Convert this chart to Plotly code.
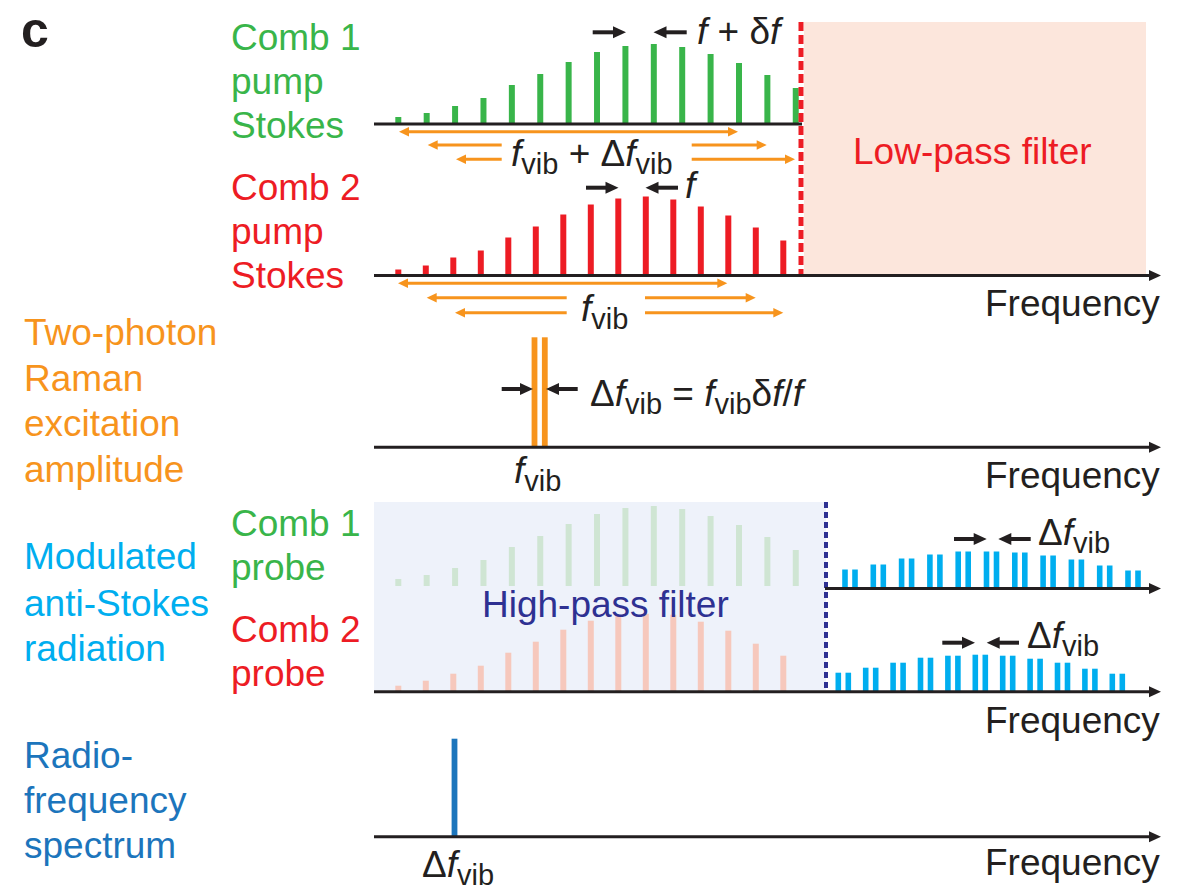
import plotly.graph_objects as go

# ---------------- data ----------------
comb_lines = list(range(15))          # comb-line index (schematic)
comb1_pump_stokes = [7, 11, 18, 26, 39, 50, 62, 72, 78, 80, 77, 70, 61, 49, 36]
comb2_pump_stokes = [6, 10, 18, 25, 38, 49, 61, 71, 77, 79, 76, 69, 60, 48, 35]
comb1_probe = [7, 11, 18, 26, 39, 50, 62, 72, 78, 80, 77, 70, 61, 49, 36]
comb2_probe = [6, 11, 18, 26, 39, 50, 62, 71, 76, 78, 77, 70, 61, 48, 36]
anti_lines = list(range(11))
anti_stokes_comb1 = [19, 24, 30, 34, 37, 37, 36, 33, 29, 23, 18]
anti_stokes_comb2 = [19, 24, 29, 34, 36, 37, 36, 33, 29, 23, 18]
raman_amplitude = [110, 110]
rf_amplitude = [98]

label_pump1 = ["Comb 1", "pump", "Stokes"]
label_pump2 = ["Comb 2", "pump", "Stokes"]
label_raman = ["Two-photon", "Raman", "excitation", "amplitude"]
label_anti = ["Modulated", "anti-Stokes", "radiation"]
label_probe1 = ["Comb 1", "probe"]
label_probe2 = ["Comb 2", "probe"]
label_rf = ["Radio-", "frequency", "spectrum"]
axis_title = "Frequency"

# ---------------- layout constants (pixel-like canvas) ----------------
W, H = 1190, 892


def Y(v):
    return H - v


FONT = "Liberation Sans, Arial, sans-serif"
FS = 37
BLACK = "#231f20"
GREEN = "#39b54a"
RED = "#ed1c24"
ORANGE = "#f7941d"
CYAN = "#00aeef"
RFBLUE = "#1c75bc"
NAVY = "#2e3192"
PINK = "#fce6dc"
LIGHTBLUE = "#eef2fa"
FADEGREEN = "#cfe5d3"
FADERED = "#f6c8bc"

AX0, AXEND = 374, 1161
B_PUMP1, B_PUMP2, B_RAMAN = 124, 275.5, 447.3
B_PROBE1_FADE, B_PROBE1, B_PROBE2, B_RF = 586, 588.5, 691.7, 836.7

C1_X0, C1_DX = 398.3, 28.39
C2_X0, C2_DX = 398.3, 27.5
A1_X0, A1_DX = 850.0, 28.3
A2_X0, A2_DX = 843.3, 27.4
PAIR_OFF = 5.0
RAMAN_X = [534.5, 544.8]
RF_X = [454.5]

SUB = '<sub><span style="font-size:29px">vib</span></sub>'

fig = go.Figure()


def add_bars(xs, hs, base_img, color, width=6.0):
    fig.add_trace(go.Bar(
        x=xs, y=hs, base=[Y(base_img)] * len(hs), width=width,
        marker=dict(color=color, line=dict(width=0)),
        hoverinfo="skip", showlegend=False))


c1x = [C1_X0 + i * C1_DX for i in comb_lines]
c2x = [C2_X0 + i * C2_DX for i in comb_lines]
add_bars(c1x, comb1_pump_stokes, B_PUMP1, GREEN)
add_bars(c2x, comb2_pump_stokes, B_PUMP2, RED)
add_bars(c1x, comb1_probe, B_PROBE1_FADE, FADEGREEN)
add_bars(c2x, comb2_probe, B_PROBE2, FADERED)
add_bars(RAMAN_X, raman_amplitude, B_RAMAN, ORANGE, 5.8)
add_bars(RF_X, rf_amplitude, B_RF, RFBLUE, 5.8)

for x0, dx, amps, base in [(A1_X0, A1_DX, anti_stokes_comb1, B_PROBE1),
                           (A2_X0, A2_DX, anti_stokes_comb2, B_PROBE2)]:
    xs, hs = [], []
    for i in anti_lines:
        c = x0 + i * dx
        xs += [c - PAIR_OFF, c + PAIR_OFF]
        hs += [amps[i], amps[i]]
    add_bars(xs, hs, base, CYAN, 5.6)

shapes = [
    dict(type="rect", x0=804, x1=1146, y0=Y(22), y1=Y(275), fillcolor=PINK,
         line=dict(width=0), layer="below"),
    dict(type="rect", x0=374, x1=826, y0=Y(502), y1=Y(690), fillcolor=LIGHTBLUE,
         line=dict(width=0), layer="below"),
    dict(type="line", x0=AX0, x1=802, y0=Y(B_PUMP1), y1=Y(B_PUMP1),
         line=dict(color=BLACK, width=3)),
    dict(type="line", x0=801, x1=801, y0=Y(22), y1=Y(275),
         line=dict(color=RED, width=5, dash="9px,4px")),
    dict(type="line", x0=826, x1=826, y0=Y(502), y1=Y(690),
         line=dict(color=NAVY, width=4, dash="6px,4px")),
]


def head(tip, y_img, d, color, L, hh):
    yc = Y(y_img)
    b = tip - d * L
    shapes.append(dict(
        type="path", path=f"M {tip},{yc} L {b},{yc + hh} L {b},{yc - hh} Z",
        fillcolor=color, line=dict(width=0), layer="above"))


def arrow(tail, tip, y_img, color, width, L, hh, both=False):
    d = 1 if tip > tail else -1
    x_start = tail + d * (L - 1) if both else tail
    shapes.append(dict(type="line", x0=x_start, x1=tip - d * (L - 1),
                       y0=Y(y_img), y1=Y(y_img),
                       line=dict(color=color, width=width), layer="above"))
    head(tip, y_img, d, color, L, hh)
    if both:
        head(tail, y_img, -d, color, L, hh)


# frequency axes
for y0, x0 in [(B_PUMP2, AX0), (B_RAMAN, AX0), (B_PROBE1, 825),
               (B_PROBE2, AX0), (B_RF, AX0)]:
    arrow(x0, AXEND, y0, BLACK, 3, 12, 5.5)

# black spacing arrows
for tail, tip, yy in [(592.7, 626, 32.3), (686.7, 653.5, 32.3),
                      (586, 618.5, 187.7), (678, 645.5, 187.7),
                      (501.7, 533, 389), (577.7, 546, 389),
                      (954, 986.7, 539), (1030.7, 998.3, 539),
                      (942.3, 975, 642.7), (1019, 986.7, 642.7)]:
    arrow(tail, tip, yy, BLACK, 4, 13, 6)

# orange f_vib arrows
OL, OH = 10, 4.8
arrow(399, 738, 131.7, ORANGE, 3, OL, OH, both=True)
arrow(501.7, 427.7, 145, ORANGE, 3, OL, OH)
arrow(691.7, 766.7, 145, ORANGE, 3, OL, OH)
arrow(501.7, 456, 159.3, ORANGE, 3, OL, OH)
arrow(691.7, 795, 159.3, ORANGE, 3, OL, OH)
arrow(398, 727.3, 283.3, ORANGE, 3, OL, OH, both=True)
arrow(566.7, 426.7, 297.7, ORANGE, 3, OL, OH)
arrow(645, 755.7, 297.7, ORANGE, 3, OL, OH)
arrow(566.7, 455, 312.7, ORANGE, 3, OL, OH)
arrow(645, 783.3, 312.7, ORANGE, 3, OL, OH)

ann = []


def text(x, y_img, s, color=BLACK, anchor="left", size=FS, bold=False):
    ann.append(dict(
        x=x, y=Y(y_img), xref="x", yref="y", text=("<b>%s</b>" % s) if bold else s,
        showarrow=False, xanchor=anchor, yanchor="middle",
        font=dict(family=FONT, size=size, color=color)))


def stack(x, ys, lines, color):
    for yy, s in zip(ys, lines):
        text(x, yy, s, color)


text(35, 30, "c", BLACK, "center", 50, bold=True)
stack(229, [37, 81, 125.5], label_pump1, GREEN)
stack(229, [187, 231, 275], label_pump2, RED)
stack(22, [332.5, 378, 423, 469], label_raman, ORANGE)
stack(22, [556.7, 603, 648.7], label_anti, CYAN)
stack(229, [523.7, 567], label_probe1, GREEN)
stack(229, [629.8, 673], label_probe2, RED)
stack(22, [755, 800, 845], label_rf, RFBLUE)

for yy in [303, 475, 720, 862]:
    text(1162, yy, axis_title, BLACK, "right")

text(972.5, 151, "Low-pass filter", RED, "center")
text(605.5, 604, "High-pass filter", NAVY, "center")

text(695, 31, "<i>f</i> + δ<i>f</i>")
text(683, 185, "<i>f</i>")
text(592, 156, "<i>f</i>" + SUB + " + Δ<i>f</i>" + SUB, BLACK, "center")
text(604, 311, "<i>f</i>" + SUB, BLACK, "center")
text(588, 396, "Δ<i>f</i>" + SUB + " = <i>f</i>" + SUB + "δ<i>f</i>/<i>f</i>")
text(537, 473, "<i>f</i>" + SUB, BLACK, "center")
text(1036, 535, "Δ<i>f</i>" + SUB)
text(1025, 638, "Δ<i>f</i>" + SUB)
text(420, 867, "Δ<i>f</i>" + SUB)

fig.update_layout(
    width=W, height=H, margin=dict(l=0, r=0, t=0, b=0),
    paper_bgcolor="white", plot_bgcolor="white",
    barmode="overlay", showlegend=False, hovermode=False,
    xaxis=dict(range=[0, W], visible=False, fixedrange=True),
    yaxis=dict(range=[0, H], visible=False, fixedrange=True),
    shapes=shapes, annotations=ann,
)

fig.write_html("out.html", config={"displayModeBar": False},
               post_script="document.body.style.margin='0';")
